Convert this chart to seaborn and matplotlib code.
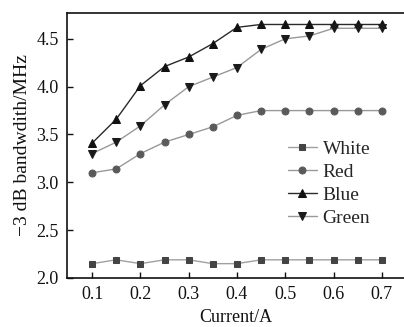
import numpy as np
import pandas as pd
import matplotlib
matplotlib.use("Agg")
import matplotlib.pyplot as plt
import seaborn as sns

current = [0.10, 0.15, 0.20, 0.25, 0.30, 0.35, 0.40, 0.45, 0.50, 0.55, 0.60, 0.65, 0.70]
white = [2.15, 2.19, 2.15, 2.19, 2.19, 2.15, 2.15, 2.19, 2.19, 2.19, 2.19, 2.19, 2.19]
red = [3.10, 3.14, 3.30, 3.42, 3.50, 3.58, 3.70, 3.75, 3.75, 3.75, 3.75, 3.75, 3.75]
blue = [3.41, 3.66, 4.01, 4.21, 4.31, 4.45, 4.62, 4.65, 4.65, 4.65, 4.65, 4.65, 4.65]
green = [3.30, 3.42, 3.59, 3.81, 4.00, 4.10, 4.20, 4.39, 4.50, 4.53, 4.61, 4.61, 4.61]

series_names = ["White", "Red", "Blue", "Green"]
series_values = [white, red, blue, green]
markers = ["s", "o", "^", "v"]
marker_colors = ["#444444", "#5a5a5a", "#111111", "#1a1a1a"]
line_colors = ["#a0a0a0", "#999999", "#2a2a2a", "#999999"]

sns.set_theme(style="ticks")
plt.rcParams["font.family"] = ["Liberation Serif", "DejaVu Serif"]
plt.rcParams["mathtext.fontset"] = "stix"

df = pd.DataFrame({
    "Current": np.tile(current, len(series_names)),
    "Bandwidth": np.concatenate(series_values),
    "Color": np.repeat(series_names, len(current)),
})

fig = plt.figure(figsize=(4.04, 3.27), dpi=100)
ax = fig.add_axes([67 / 404, 1 - 278 / 327, 1 - 67 / 404, (278 - 13) / 327])

for name, mk, mc, lc in zip(series_names, markers, marker_colors, line_colors):
    sub = df[df["Color"] == name]
    sns.lineplot(data=sub, x="Current", y="Bandwidth", ax=ax, color=lc,
                 linewidth=1.0, marker=mk, markersize=6 if mk in "^v" else 5,
                 markerfacecolor=mc, markeredgecolor=mc, label=name)

ax.set_xlim(0.048, 0.746)
ax.set_ylim(2.0, 4.77)
ax.set_xticks([0.1, 0.2, 0.3, 0.4, 0.5, 0.6, 0.7])
ax.set_yticks([2.0, 2.5, 3.0, 3.5, 4.0, 4.5])
ax.set_xticklabels(["0.1", "0.2", "0.3", "0.4", "0.5", "0.6", "0.7"])
ax.set_yticklabels(["2.0", "2.5", "3.0", "3.5", "4.0", "4.5"])
ax.tick_params(direction="in", length=4, width=1, labelsize=13, colors="#111111", pad=6)
ax.set_xlabel("Current/A", fontsize=13, color="#111111", labelpad=4)
ax.set_ylabel("\u22123 dB bandwdith/MHz", fontsize=14, color="#111111", labelpad=4)

for side in ["left", "bottom", "top"]:
    ax.spines[side].set_linewidth(1.2)
    ax.spines[side].set_color("#111111")
ax.spines["right"].set_visible(False)

ax.legend(loc="upper left", bbox_to_anchor=(0.655, 0.52), frameon=False,
          fontsize=14, handlelength=1.5, handletextpad=0.3, labelspacing=0.28,
          borderaxespad=0, borderpad=0)

fig.savefig("out.png", dpi=100)
